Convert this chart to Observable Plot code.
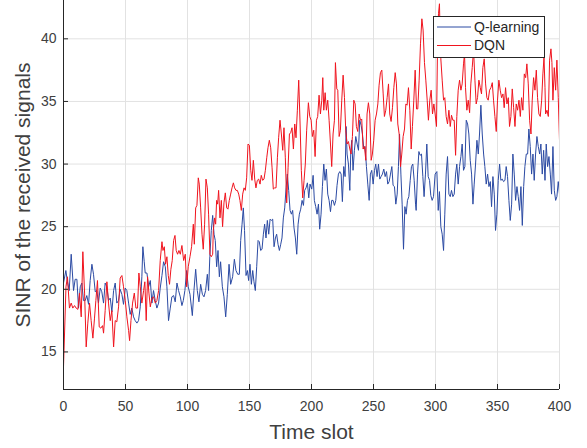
<!DOCTYPE html>
<html>
<head>
<meta charset="utf-8">
<script src="https://cdn.jsdelivr.net/npm/d3@7"></script>
<script src="https://cdn.jsdelivr.net/npm/@observablehq/plot@0.6"></script>
<style>
  html, body { margin: 0; padding: 0; background: #fff; }
  #chart { width: 587px; height: 448px; }
</style>
</head>
<body>
<div id="chart"></div>
<script>
// Tick values
const xTicks = [0, 50, 100, 150, 200, 250, 300, 350, 400];
const yTicks = [15, 20, 25, 30, 35, 40];
const seriesNames = ["Q-learning", "DQN"];

// [time slot, SINR]
const qLearning = [[0,20.5],[1.9,21.5],[3.2,20.6],[4.6,19.9],[6.2,22.8],[8.1,19.9],[9.4,20.8],[10.8,20.8],[12.1,18.5],[13.5,20.2],[14.8,20.5],[16.1,19.1],[17.5,19.1],[18.8,19.5],[20.2,18.8],[21.5,20.7],[22.9,22.0],[24.2,21.2],[25.6,19.8],[26.9,19.9],[28.2,18.9],[29.6,20.1],[30.9,19.8],[32.3,18.9],[33.6,20.5],[35,20.2],[36.3,19.1],[37.7,19.3],[39,18.2],[40.4,19.9],[41.7,20.5],[43,18.9],[44.4,19.1],[45.7,20.0],[47.1,19.6],[48.4,18.8],[49.8,20.1],[51.1,19.9],[52.5,18.9],[53.8,18.0],[55.1,18.5],[56.5,17.8],[57.8,17.5],[59.2,17.3],[60.5,17.5],[61.9,18.6],[63.2,21.0],[64,23.4],[65.1,22.2],[65.9,21.3],[67.3,21.3],[68.6,20.2],[70,20.7],[71.3,18.9],[72.6,19.9],[74,19.1],[75.3,18.5],[76.7,18.9],[78,20.1],[79.4,21.1],[80.7,22.2],[82.1,21.8],[83.4,20.2],[84.7,17.5],[86.1,18.5],[87.4,19.4],[88.8,19.5],[90.1,19.0],[91.5,20.5],[92.8,19.9],[94.2,19.4],[95.5,18.7],
[96.6,19.1],[97.9,19.9],[99.3,21.5],[100.6,20.2],[102,19.6],[103.9,17.9],[105.2,19.9],[106.6,21.6],[107.9,19.9],[109.2,19.0],[110.6,20.4],[112,19.6],[113.3,19.4],[114.6,19.9],[116,21.2],[117,19.9],[118,22.6],[119.2,24.7],[120.3,25.9],[121.4,24.4],[122.4,23.9],[123.5,21.8],[124.6,23.1],[125.7,21.0],[126.7,22.2],[128.1,20.2],[129.4,19.4],[130.8,17.8],[132.1,19.6],[133.5,22.0],[134.8,20.4],[136.4,21.0],[137.8,22.4],[139.1,21.5],[140.5,21.2],[141.8,21.2],[142.9,23.9],[144,25.2],[145,26.5],[146,24.7],[147.2,21.1],[148.3,21.5],[149.3,20.7],[150.4,22.0],[151.5,20.4],[152.6,21.5],[153.6,20.6],[154.7,19.9],[155.8,21.8],[156.9,23.9],[157.9,23.8],[159,23.1],[160.1,23.2],[161.2,24.4],[162.2,25.2],[163.3,24.1],[164.4,25.5],[165.5,24.4],[166.6,25.6],[167.6,25.5],[168.7,25.6],[169.8,23.4],[170.9,24.1],[171.9,24.4],[173,23.6],[174.1,23.1],[175.2,23.6],[176.2,24.1],[177.3,25.7],[178.4,26.5],[179.5,28.1],[180.5,29.2],[181.6,27.9],[182.7,26.3],[183.8,26.0],[184.8,26.3],[185.9,24.9],[187,24.1],[188.1,22.8],[189.2,25.2],[190.2,26.0],[191.3,26.4],[192.4,27.1],[193.5,26.7],[194.5,27.9],[195.6,28.1],[196.7,28.5],
[197.8,27.3],[198.8,28.4],[200.2,28.0],[201.3,29.1],[202.3,27.1],[203.4,26.6],[204.5,26.0],[205.6,26.8],[206.6,24.8],[207.7,26.0],[208.8,28.2],[209.9,30.0],[210.9,28.7],[212,29.6],[213.1,27.6],[214.2,27.1],[215.3,26.2],[216.3,27.1],[217.4,27.1],[218.5,26.7],[219.6,27.1],[220.6,28.3],[221.7,29.2],[222.8,29.4],[223.9,29.2],[224.9,27.0],[226,29.8],[227.1,29.0],[227.9,33.0],[228.7,30.8],[229.8,30.0],[230.9,27.9],[231.7,31.1],[232.5,31.9],[233.5,29.5],[234.6,31.1],[235.7,32.2],[236.8,31.6],[237.9,31.1],[238.9,33.5],[240,33.1],[241.1,32.4],[242.2,31.2],[243.2,31.4],[244.3,29.8],[245.4,28.4],[246.5,27.1],[247.5,29.2],[248.6,29.5],[249.7,28.4],[250.8,29.5],[251.8,30.0],[252.9,29.0],[254,30.0],[255.1,28.8],[256.1,29.0],[257.2,29.2],[258.3,29.6],[259.4,29.0],[260.5,29.4],[261.5,28.4],[262.6,28.6],[263.7,29.2],[264.8,29.8],[265.8,28.3],[266.9,28.2],[268,26.8],[269.1,27.6],[270.1,29.8],[271,32.4],[272.1,29.2],[273.1,26.8],[274.2,23.2],[275.3,26.6],[276.3,26.0],[277.4,27.1],[278.5,27.4],[279.6,28.7],[280.6,29.8],[281.7,30.0],[282.8,28.7],[283.9,26.8],[284.4,26.3],[285.5,29.2],[286.6,31.0],[287.6,30.7],[288.7,30.8],[289.8,29.0],[290.8,27.4],[291.9,29.2],[293,31.6],[294.1,29.0],[295.2,28.7],[296.2,27.5],[297.3,27.1],
[298.4,27.4],[299.7,29.2],[301.1,29.4],[302.2,26.3],[303.2,27.8],[304.3,25.0],[305.4,24.4],[306.5,23.1],[307.5,26.0],[308.6,29.2],[309.7,30.6],[310.8,27.6],[311.9,27.4],[312.9,27.9],[314,27.4],[315.1,27.6],[316.2,29.2],[317.2,30.0],[318.3,28.4],[319.4,29.8],[320.5,30.6],[321.5,31.6],[322.6,29.5],[323.7,29.8],[324.8,33.5],[325.9,33.2],[326.9,32.4],[328,30.3],[329.1,29.2],[330.2,26.8],[331.2,28.4],[332.3,30.0],[333.4,31.9],[334.5,30.8],[335.5,32.4],[336.6,34.7],[337.7,32.4],[338.8,30.8],[339.8,29.8],[340.9,28.4],[342,29.2],[343.1,28.2],[344.2,28.6],[345.2,26.6],[346.3,29.0],[347.4,27.6],[348.4,24.7],[349.5,26.0],[350.6,28.7],[351.7,30.0],[352.7,28.7],[353.8,28.8],[354.9,28.6],[356,28.7],[357,29.8],[358.1,29.0],[359.2,27.1],[360.3,25.5],[361.4,26.8],[362.4,30.8],[363.5,29.2],[364.6,27.1],[365.7,28.2],[366.7,27.4],[367.8,26.3],[368.9,28.2],[370,25.1],[371.1,28.2],[372.1,29.8],[373.2,30.8],[374.3,30.8],[375.3,32.8],[376.4,31.4],[377.5,29.2],[378.6,30.8],[379.6,28.7],[380.7,30.8],[381.8,32.2],[382.9,31.4],[384,30.8],[385,31.6],[386.1,29.2],[387.2,31.1],[388.3,28.7],[389.3,31.6],[390.4,29.8],[391.5,30.6],[392.6,29.2],[393.6,27.6],[394.7,31.4],[395.8,27.9],[396.9,27.1],[397.9,27.4],[399,28.6],[400,27.6]];

const dqn = [[0,13.8],[2,20.2],[3.2,21.0],[4.8,18.5],[6.2,18.9],[7.5,18.5],[8.9,18.7],[10.2,18.5],[11.6,18.4],[12.9,19.7],[14.3,17.8],[15.6,23.0],[17,19.7],[18.3,15.4],[19.6,17.3],[21,18.9],[22.3,17.5],[23.7,16.1],[25,17.7],[26.1,19.1],[27.4,20.7],[28.8,17.0],[30.1,16.9],[31.5,17.1],[32.3,16.5],[33.6,18.3],[35,20.6],[36.3,18.9],[37.7,17.5],[39,18.3],[40.4,15.4],[41.7,17.5],[43,17.4],[44.4,18.6],[45.7,20.9],[47.1,21.1],[48.4,20.2],[49.8,19.1],[51.1,17.8],[52.5,16.7],[53.3,15.9],[54.4,17.5],[55.7,18.9],[57.1,19.7],[58.4,18.5],[59.7,18.5],[60.8,21.3],[61.9,20.2],[63.2,18.9],[64.6,19.9],[65.6,20.6],[66.7,17.5],[67.8,21.0],[68.9,19.7],[70,18.6],[71.3,19.3],[72.6,19.4],[74,18.9],[75.3,19.1],[76.7,19.9],[78,22.3],[79.4,23.8],[80.2,23.1],[81.3,23.4],[82.3,22.0],[83.4,22.6],[84.5,21.1],[85.5,20.4],[86.6,21.6],[87.7,22.3],[88.8,23.9],[89.9,24.3],[90.9,23.1],[92,22.8],[93.1,23.1],[94.2,22.8],[95.5,23.5],[96.9,22.3],[98.2,22.8],
[99.3,20.2],[100.6,21.8],[102,22.6],[103.3,23.4],[104.7,25.2],[105.5,23.6],[106.6,26.5],[107.6,26.7],[108.7,28.9],[109.5,28.4],[110.6,26.5],[111.7,24.4],[112.7,23.2],[113.8,25.2],[114.9,28.8],[116,28.1],[117,26.0],[118.1,22.8],[119.2,22.6],[120.3,22.8],[120.8,24.7],[121.9,25.7],[122.7,25.2],[123.5,27.1],[124.3,26.8],[125.1,27.9],[126.2,25.7],[127.3,27.1],[128.3,25.0],[129.4,26.9],[130.5,27.7],[131.6,26.5],[132.6,26.4],[133.7,27.1],[134.8,27.6],[135.9,28.1],[137,28.5],[138,28.1],[139.1,27.9],[140.2,27.9],[141.3,27.6],[142.3,27.1],[143.4,26.3],[144.5,27.6],[145.6,28.1],[146.6,27.9],[147.7,28.9],[148.8,31.6],[149.9,31.5],[151,29.5],[152,28.7],[153.1,30.3],[154.2,28.8],[155.2,28.1],[156.3,28.7],[157.4,28.8],[158.5,28.4],[159.5,29.1],[160.6,28.7],[161.7,28.8],[162.8,29.5],[163.9,30.5],[164.9,31.3],[166,31.9],[167.1,31.3],[168.2,29.7],[169.2,28.0],[170.3,28.1],[171.4,28.1],[172.5,30.5],[173.5,32.1],[174.6,33.5],[175.7,32.4],[176.8,31.1],[177.8,32.9],[178.9,30.5],[180,26.9],[181.1,29.7],[182.2,32.4],[183.2,32.5],[184.3,32.9],[185.4,31.2],[186.5,33.2],[187.5,32.1],[188.6,34.3],[189.7,36.7],[190.8,33.2],[191.8,29.5],[192.9,27.3],[194,28.7],[195,30.0],[196.1,32.7],
[197.5,34.9],[198.6,33.8],[199.7,33.5],[200.7,32.2],[201.8,32.7],[202.9,30.6],[204,33.5],[205,33.8],[206.1,35.5],[207.2,34.0],[208.3,35.1],[209.1,36.9],[209.9,34.3],[211,35.7],[212,34.3],[213.1,35.1],[214.2,33.5],[215.3,31.6],[216.3,29.8],[217.4,32.4],[218.5,33.5],[219.3,38.1],[220.4,36.0],[221.2,35.9],[222.3,32.2],[223.3,32.7],[224.4,35.1],[225.5,37.1],[226.6,35.3],[227.6,32.7],[228.7,31.6],[229.8,31.8],[230.9,31.2],[231.9,30.8],[233,32.2],[234.1,35.1],[235.2,34.8],[236.2,33.0],[237.3,32.6],[238.4,34.0],[239.5,33.5],[240.5,33.6],[241.6,31.2],[242.7,31.4],[243.8,30.3],[244.8,34.0],[245.9,34.9],[247,34.0],[248.1,30.3],[249.1,30.8],[250.2,31.9],[251.3,33.5],[252.4,34.0],[253.5,34.8],[254.5,36.3],[255.6,37.3],[256.7,37.5],[257.8,35.6],[258.8,33.8],[259.9,34.3],[261,35.3],[262.1,36.4],[263.1,34.0],[264.2,33.4],[265.3,34.5],[266.4,36.1],[267.5,37.3],[268.5,36.4],[269.6,33.2],[270.7,32.4],[271.8,29.8],[272.8,30.8],[273.9,32.2],[275,32.8],[276.1,34.8],[277.1,34.7],[278.2,36.1],[279.3,34.3],[280.4,31.2],[281.4,33.0],[282.5,35.1],[283.6,37.5],[284.7,34.4],[285.7,34.4],[286.8,36.7],[287.9,39.6],[289,41.6],[290,40.7],[291.1,38.1],[292.2,36.7],[293.3,35.1],[294.3,33.5],[295.4,35.1],[296.5,35.9],[297.6,34.0],[298.7,34.8],[299.7,34.0],[300.8,33.0],
[301.6,39.1],[302.4,42.0],[303.2,42.8],[303.7,40.4],[304.3,38.4],[305.4,36.7],[306.5,35.1],[307.5,35.3],[308.6,33.8],[309.7,33.2],[310.8,34.3],[311.9,33.0],[312.9,33.9],[314,33.5],[315.1,33.5],[316.2,30.7],[317.2,33.8],[318.3,35.9],[319.4,36.7],[320.5,35.9],[321.5,36.4],[322.6,38.0],[323.4,38.8],[324.2,36.1],[325.3,34.3],[326.4,35.1],[327.5,34.1],[328.5,36.4],[329.6,37.7],[330.7,39.1],[331.8,36.7],[332.8,34.8],[333.9,35.3],[335,36.7],[336.1,36.1],[337.1,35.6],[338.2,37.7],[339.3,38.4],[340.4,36.4],[341.4,35.3],[342.5,35.1],[343.6,35.9],[344.7,36.1],[345.8,36.5],[346.8,35.1],[347.9,33.8],[349,32.6],[350,35.1],[351.1,36.7],[352.2,35.9],[353.3,35.3],[354.4,35.6],[355.4,34.5],[356.5,36.1],[357.6,34.8],[358.7,35.3],[359.7,33.0],[360.8,33.8],[361.9,36.0],[363,34.5],[364.1,33.0],[365.1,34.8],[366.2,34.3],[367.3,35.1],[368.4,33.8],[369.4,35.3],[370.5,34.3],[371.6,37.2],[372.7,36.9],[373.7,38.0],[374.8,36.4],[375.9,33.5],[377,32.4],[378,35.1],[379.1,36.9],[380.2,35.9],[381.3,37.5],[382.3,35.3],[383.4,34.0],[384.5,33.8],[385.6,35.1],[386.6,37.2],[387.5,38.5],[388.3,36.1],[388.8,34.0],[389.9,34.3],[391,33.8],[392,38.3],[393.1,39.2],[393.9,38.1],[394.7,35.1],[395.8,37.7],[396.9,35.9],[397.9,38.3],[399,35.3],[400,31.9]];

const blue = "#2b4aa3";
const red = "#f0141e";
const axisColor = "#262626";
const font = "'Liberation Sans', Arial, Helvetica, sans-serif";

const W = 587, H = 448, mL = 63, mR = 28, mT = 0, mB = 59;
const frameW = W - mL - mR, frameH = H - mT - mB;

const chart = Plot.plot({
  width: W, height: H,
  marginLeft: mL, marginRight: mR, marginTop: mT, marginBottom: mB,
  style: { fontFamily: font, fontSize: "14px", color: "#404040", background: "white", overflow: "visible" },
  x: { domain: [0, 400] },
  y: { domain: [12, 43.06] },
  marks: [
    Plot.gridX(xTicks, { stroke: "#e2e2e2", strokeOpacity: 1 }),
    Plot.gridY(yTicks, { stroke: "#e2e2e2", strokeOpacity: 1 }),
    Plot.line(qLearning, { x: d => d[0], y: d => d[1], stroke: blue, strokeWidth: 1, clip: true }),
    Plot.line(dqn, { x: d => d[0], y: d => d[1], stroke: red, strokeWidth: 1, clip: true }),
    Plot.ruleX([0], { stroke: axisColor, strokeWidth: 1 }),
    Plot.ruleY([12], { stroke: axisColor, strokeWidth: 1 }),
    Plot.tickX(xTicks, { x: d => d, insetTop: frameH - 5, stroke: axisColor }),
    Plot.tickY(yTicks, { y: d => d, insetRight: frameW - 5, stroke: axisColor }),
    Plot.axisX(xTicks, { tickSize: 0, tickPadding: 12, label: null, fontSize: 14 }),
    Plot.axisY(yTicks, { tickSize: 0, tickPadding: 7, label: null, fontSize: 14 }),
    Plot.text(["Time slot"], { frameAnchor: "bottom", dy: 43, fontSize: 21, textAnchor: "middle", lineAnchor: "middle", fill: "#404040" }),
    Plot.text(["SINR of the received signals"], { frameAnchor: "left", dx: -40, rotate: -90, fontSize: 21, textAnchor: "middle", lineAnchor: "middle", fill: "#404040" })
  ]
});

document.getElementById("chart").appendChild(chart);

// Legend (MATLAB-style box, top right inside the axes)
const svg = d3.select(chart);
const lg = svg.append("g").attr("font-family", font).attr("font-size", 14).attr("text-anchor", "start");
lg.append("rect").attr("x", 433.5).attr("y", 16.5).attr("width", 111).attr("height", 41)
  .attr("fill", "white").attr("stroke", axisColor).attr("stroke-width", 1);
const entries = [{ name: seriesNames[0], color: blue, y: 27 }, { name: seriesNames[1], color: red, y: 45.5 }];
entries.forEach(e => {
  lg.append("line").attr("x1", 437).attr("x2", 471).attr("y1", e.y).attr("y2", e.y)
    .attr("stroke", e.color).attr("stroke-width", 1);
  lg.append("text").attr("x", 474).attr("y", e.y).attr("dy", "0.35em")
    .attr("text-anchor", "start").attr("fill", axisColor).text(e.name);
});
</script>
</body>
</html>
